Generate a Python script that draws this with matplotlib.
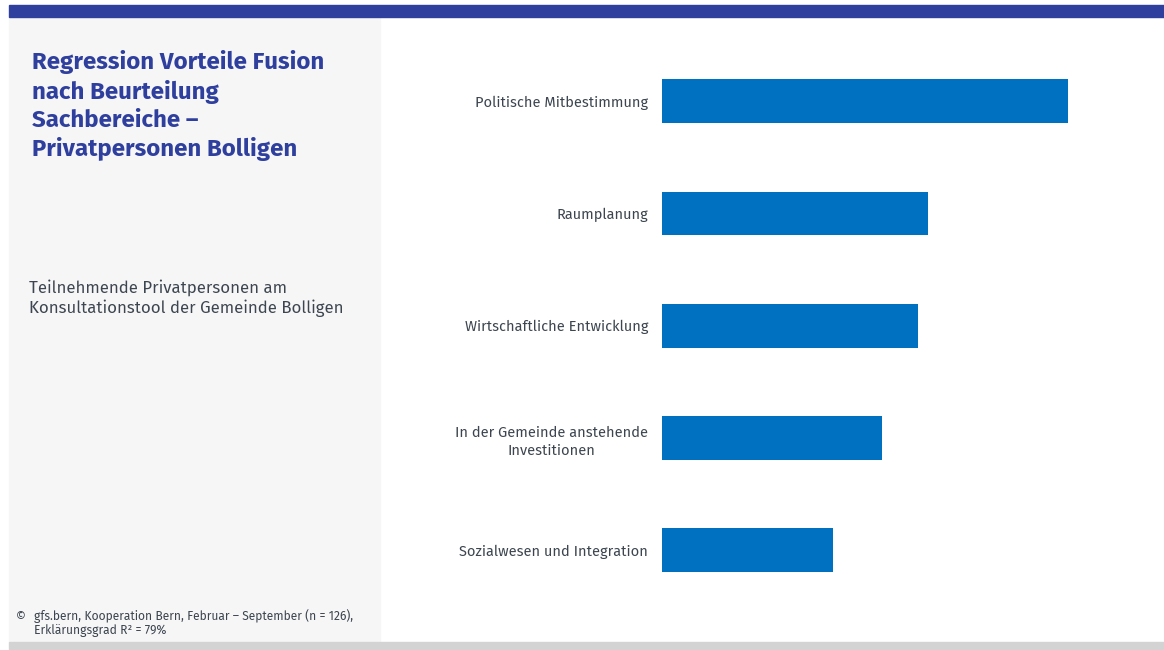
import matplotlib.pyplot as plt
from matplotlib.patches import Rectangle

# Regression coefficients (relative weight of each domain)
categories = [
    "Politische Mitbestimmung",
    "Raumplanung",
    "Wirtschaftliche Entwicklung",
    "In der Gemeinde anstehende\nInvestitionen",
    "Sozialwesen und Integration",
]
values = [0.406, 0.266, 0.256, 0.220, 0.171]

title = "Regression Vorteile Fusion\nnach Beurteilung\nSachbereiche –\nPrivatpersonen Bolligen"
subtitle = "Teilnehmende Privatpersonen am\nKonsultationstool der Gemeinde Bolligen"
footer = "gfs.bern, Kooperation Bern, Februar – September (n = 126),\nErklärungsgrad R² = 79%"

W, H = 1164, 650
BLUE_DARK = "#2f3f9e"
BAR = "#0070c0"
TEXT = "#3d4650"

plt.rcParams["font.family"] = ["Fira Sans", "Noto Sans", "DejaVu Sans"]

fig = plt.figure(figsize=(W / 100, H / 100), dpi=100)
fig.patch.set_facecolor("white")


def px(x, y):
    return x / W, 1 - y / H


# frame: top band, left panel, bottom band
fig.patches.append(Rectangle(px(9, 16.5), (W - 9) / W, 11.5 / H, transform=fig.transFigure,
                             color=BLUE_DARK, zorder=1))
fig.patches.append(Rectangle(px(9, 642), (380 - 9) / W, (642 - 17) / H, transform=fig.transFigure,
                             color="#f6f6f7", zorder=0))
fig.patches.append(Rectangle(px(9, 650), (W - 9) / W, 8 / H, transform=fig.transFigure,
                             color="#d3d3d3", zorder=0))

# left panel text
fig.text(*px(32, 50), title, ha="left", va="top", fontsize=17.3, fontweight="bold",
         color=BLUE_DARK, linespacing=1.29)
fig.text(*px(29, 279), subtitle, ha="left", va="top", fontsize=12.1, color=TEXT,
         linespacing=1.3)
fig.text(*px(16, 610), "©", ha="left", va="top", fontsize=8.7, color=TEXT)
fig.text(*px(34, 609.5), footer, ha="left", va="top", fontsize=8.7, color=TEXT,
         linespacing=1.05)

# bar chart: 1 data unit = 1/1000 of axis in pixel terms
ax_l, ax_r = 662, 1164
ax_t, ax_b = 45, 606.5
ax = fig.add_axes([ax_l / W, 1 - ax_b / H, (ax_r - ax_l) / W, (ax_b - ax_t) / H])
ax.set_facecolor("none")
y = list(range(len(categories)))
ax.barh(y, values, height=0.39, color=BAR, left=0)
ax.set_xlim(0, (ax_r - ax_l) / 1000)
ax.set_ylim(len(categories) - 0.5, -0.5)
ax.set_yticks(y)
ax.set_yticklabels(categories, fontsize=10.5, color=TEXT, multialignment="center",
                   linespacing=1.4)
ax.tick_params(axis="y", length=0, pad=10)
ax.set_xticks([])
for s in ax.spines.values():
    s.set_visible(False)

fig.savefig("out.png", dpi=100)
